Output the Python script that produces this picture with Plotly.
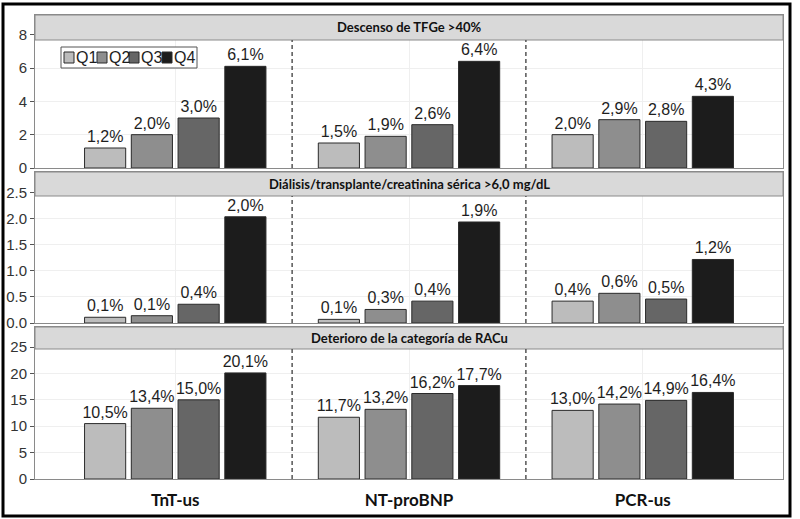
import plotly.graph_objects as go
from plotly.subplots import make_subplots

# ---------------- data ----------------
markers = ["TnT-us", "NT-proBNP", "PCR-us"]
quartiles = ["Q1", "Q2", "Q3", "Q4"]
panel_titles = [
    "Descenso de TFGe >40%",
    "Diálisis/transplante/creatinina sérica >6,0 mg/dL",
    "Deterioro de la categoría de RACu",
]
# values per quartile: [TnT-us, NT-proBNP, PCR-us]
egfr_q1 = [1.2, 1.5, 2.0]
egfr_q2 = [2.0, 1.9, 2.9]
egfr_q3 = [3.0, 2.6, 2.8]
egfr_q4 = [6.1, 6.4, 4.3]

dial_q1 = [0.11, 0.07, 0.42]
dial_q2 = [0.14, 0.26, 0.57]
dial_q3 = [0.36, 0.42, 0.46]
dial_q4 = [2.04, 1.94, 1.22]

uacr_q1 = [10.5, 11.7, 13.0]
uacr_q2 = [13.4, 13.2, 14.2]
uacr_q3 = [15.0, 16.2, 14.9]
uacr_q4 = [20.1, 17.7, 16.4]

panels = [
    [egfr_q1, egfr_q2, egfr_q3, egfr_q4],
    [dial_q1, dial_q2, dial_q3, dial_q4],
    [uacr_q1, uacr_q2, uacr_q3, uacr_q4],
]
y_ranges = [[0, 9.18], [0, 2.9], [0, 28.8]]
y_dticks = [2, 0.5, 5]
y_formats = ["", ".1f", ""]

# ---------------- style ----------------
colors = ["#bcbcbc", "#8e8e8e", "#666666", "#1c1c1c"]
W, H = 800, 519
ML, MR, MT, MB = 35, 17, 15, 40
PW, PH = W - ML - MR, H - MT - MB
LBL_FONT = "Arial, Liberation Sans, sans-serif"
HDR_FONT = "Lato, Open Sans, sans-serif"


def px_x(px):
    return (px - ML) / PW


def px_y(py):
    return (H - MB - py) / PH


fig = make_subplots(rows=3, cols=1, shared_xaxes=False, vertical_spacing=0.01)

for r, panel in enumerate(panels):
    for q, vals in enumerate(panel):
        fig.add_trace(
            go.Bar(
                x=markers,
                y=vals,
                name=quartiles[q],
                marker=dict(color=colors[q], line=dict(color="#2a2a2a", width=1)),
                text=[f"{v:.1f}".replace(".", ",") + "%" for v in vals],
                textposition="outside",
                textfont=dict(family=LBL_FONT, size=16, color="#1e1e1e"),
                constraintext="none",
                cliponaxis=False,
                showlegend=False,
                hoverinfo="skip",
            ),
            row=r + 1,
            col=1,
        )

# panel pixel extents (top, bottom)
panel_px = [(15, 168), (172, 323), (327, 479)]
header_px = [25, 24, 22]

shapes = []
annotations = []
for r in range(3):
    top, bot = panel_px[r]
    dom = [px_y(bot), px_y(top)]
    ya = "yaxis" if r == 0 else f"yaxis{r + 1}"
    xa = "xaxis" if r == 0 else f"xaxis{r + 1}"
    yref = "y" if r == 0 else f"y{r + 1}"
    xref = "x" if r == 0 else f"x{r + 1}"
    fig.layout[ya].update(
        domain=dom,
        range=y_ranges[r],
        dtick=y_dticks[r],
        tick0=0,
        tickformat=y_formats[r],
        showgrid=True,
        gridcolor="#efefef",
        gridwidth=1,
        zeroline=False,
        showline=True,
        linecolor="#8a8a8a",
        linewidth=1,
        mirror=True,
        ticks="outside",
        ticklen=4,
        tickcolor="#555555",
        tickfont=dict(family=LBL_FONT, size=15, color="#333333"),
        automargin=False,
        fixedrange=True,
    )
    fig.layout[xa].update(
        domain=[0, 1],
        range=[-0.6, 2.6],
        type="category",
        showgrid=True,
        gridcolor="#efefef",
        showline=True,
        linecolor="#8a8a8a",
        linewidth=1,
        mirror=True,
        ticks="",
        showticklabels=(r == 2),
        tickfont=dict(family=HDR_FONT, size=17, color="#111111", weight="bold"),
        ticklabelstandoff=6,
        automargin=False,
        fixedrange=True,
        anchor=yref,
    )
    hdr_frac = 1 - header_px[r] / (bot - top)
    # header strip
    shapes.append(dict(
        type="rect", xref="paper", yref=f"{yref} domain",
        x0=0, x1=1, y0=hdr_frac, y1=1,
        fillcolor="#d9d9d9", line=dict(color="#8a8a8a", width=1), layer="above",
    ))
    annotations.append(dict(
        text=panel_titles[r], xref="paper", yref=f"{yref} domain",
        x=0.5, y=(hdr_frac + 1) / 2, showarrow=False,
        xanchor="center", yanchor="middle",
        font=dict(family=HDR_FONT, size=13, color="#111111", weight="bold"),
    ))
    # dashed separators between marker groups
    for sx in (0.5, 1.5):
        shapes.append(dict(
            type="line", xref=xref, yref=f"{yref} domain",
            x0=sx, x1=sx, y0=0, y1=hdr_frac,
            line=dict(color="#555555", width=1.5, dash="4px,3px"), layer="above",
        ))

# custom compact legend
shapes.append(dict(
    type="rect", xref="paper", yref="paper",
    x0=px_x(61), x1=px_x(197), y0=px_y(68), y1=px_y(47),
    fillcolor="white", line=dict(color="#555555", width=1), layer="above",
))
leg_x = [64, 97, 129, 162]
for q in range(4):
    shapes.append(dict(
        type="rect", xref="paper", yref="paper",
        x0=px_x(leg_x[q]), x1=px_x(leg_x[q] + 10), y0=px_y(63), y1=px_y(52),
        fillcolor=colors[q], line=dict(color="#2a2a2a", width=1), layer="above",
    ))
    annotations.append(dict(
        text=quartiles[q], xref="paper", yref="paper",
        x=px_x(leg_x[q] + 10), y=px_y(57.5), showarrow=False,
        xanchor="left", yanchor="middle",
        font=dict(family=LBL_FONT, size=16, color="#1e1e1e"),
    ))

# outer black frame
shapes.append(dict(
    type="rect", xref="paper", yref="paper",
    x0=px_x(3), x1=px_x(790), y0=px_y(516), y1=px_y(4),
    fillcolor="rgba(0,0,0,0)", line=dict(color="#000000", width=3), layer="above",
))

fig.update_layout(
    width=W,
    height=H,
    autosize=False,
    margin=dict(l=ML, r=MR, t=MT, b=MB, pad=0, autoexpand=False),
    paper_bgcolor="white",
    plot_bgcolor="white",
    barmode="group",
    bargap=0.2,
    bargroupgap=0.12,
    showlegend=False,
    shapes=shapes,
    annotations=annotations,
)

fig.write_html(
    "out.html",
    config={"displayModeBar": False, "staticPlot": True},
    post_script="document.body.style.margin='0';document.body.style.padding='0';",
)
